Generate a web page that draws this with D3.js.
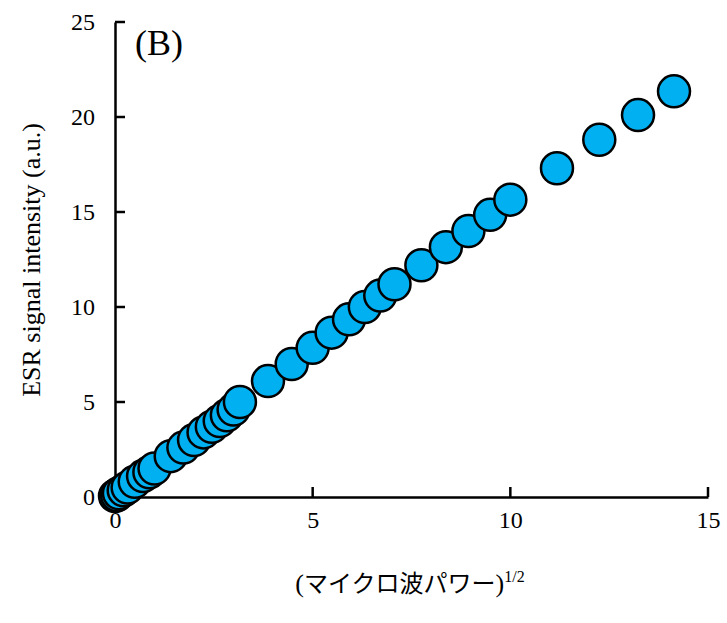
<!DOCTYPE html><html><head><meta charset="utf-8"><script src="https://cdn.jsdelivr.net/npm/d3@7"></script>
<style>body{margin:0;background:#fff}</style></head><body><svg id="c" width="727" height="623"></svg><script>
const xVals=[0,0.05,0.1,0.22,0.32,0.5,0.71,0.87,1,1.41,1.73,2,2.24,2.45,2.65,2.83,3,3.16,3.87,4.47,5,5.48,5.92,6.32,6.71,7.07,7.75,8.37,8.94,9.49,10,11.18,12.25,13.23,14.14];
const yVals=[0.05,0.1,0.2,0.35,0.5,0.8,1.1,1.3,1.5,2.15,2.6,3.0,3.4,3.7,4.0,4.3,4.6,5.0,6.1,7.0,7.85,8.65,9.35,10.0,10.6,11.2,12.2,13.15,14.0,14.85,15.65,17.3,18.8,20.1,21.35];
const xTicks=[0,5,10,15], yTicks=[0,5,10,15,20,25];
const svg=d3.select("#c");
const x=d3.scaleLinear().domain([0,15]).range([115,708]);
const y=d3.scaleLinear().domain([0,25]).range([497,22]);
const ff="Liberation Serif, Times New Roman, serif";
svg.append("g").attr("transform","translate(0,497)").call(d3.axisBottom(x).tickValues(xTicks).tickSize(0).tickPadding(14))
 .call(g=>{g.select(".domain").attr("stroke","#000").attr("stroke-width",2.5);g.selectAll("text").attr("font-family",ff).attr("font-size",24).attr("fill","#000");});
svg.append("g").attr("transform","translate(115,0)").call(d3.axisLeft(y).tickValues(yTicks).tickSize(0).tickPadding(20))
 .call(g=>{g.select(".domain").attr("stroke","#000").attr("stroke-width",2.5);g.selectAll("text").attr("font-family",ff).attr("font-size",24).attr("fill","#000");});
svg.append("g").selectAll("line").data(yTicks.slice(1)).join("line").attr("x1",115).attr("x2",125).attr("y1",d=>y(d)).attr("y2",d=>y(d)).attr("stroke","#000").attr("stroke-width",2.5);
svg.append("g").selectAll("line").data(xTicks.slice(1)).join("line").attr("x1",d=>x(d)).attr("x2",d=>x(d)).attr("y1",497).attr("y2",487).attr("stroke","#000").attr("stroke-width",2.5);
svg.append("g").selectAll("circle").data(xVals.map((v,i)=>[v,yVals[i]])).join("circle")
 .attr("cx",d=>x(d[0])).attr("cy",d=>y(d[1])).attr("r",16).attr("fill","#00B0F0").attr("stroke","#000").attr("stroke-width",2.5);
svg.append("text").attr("x",135).attr("y",55).attr("font-family",ff).attr("font-size",36).text("(B)");
svg.append("text").attr("transform","translate(40,260) rotate(-90)").attr("text-anchor","middle").attr("font-family",ff).attr("font-size",26).text("ESR signal intensity (a.u.)");
const t=svg.append("text").attr("x",410).attr("y",592).attr("text-anchor","middle").attr("font-family",ff).attr("font-size",26);
t.append("tspan").text("(");t.append("tspan").attr("font-family","Noto Sans CJK JP").attr("font-size",24).text("マイクロ波パワー");t.append("tspan").text(")");
t.append("tspan").attr("font-size",16).attr("dy",-10).text("1/2");
</script></body></html>
